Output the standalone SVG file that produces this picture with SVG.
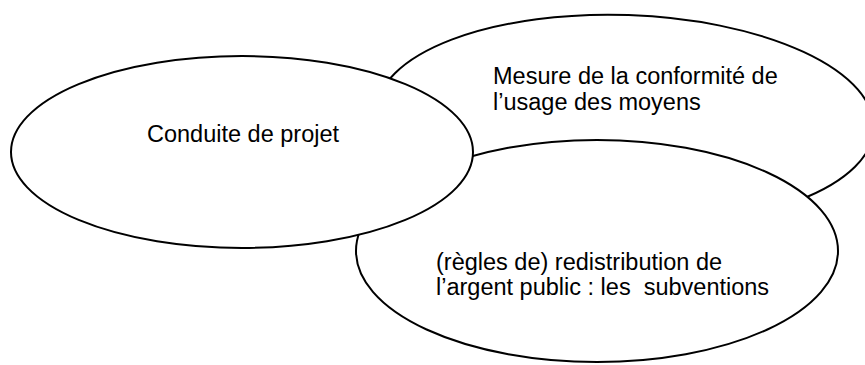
<svg xmlns="http://www.w3.org/2000/svg" width="865" height="365" viewBox="0 0 865 365">
<style>
.node ellipse{fill:#fff;stroke:#000;stroke-width:2}
.lbl{font-family:"Liberation Sans",Arial,sans-serif;font-size:23.5px;fill:#000;white-space:pre}
</style>
<rect width="865" height="365" fill="#fff"/>
<g id="connectors"></g>
<g id="node-mesure" class="node">
<ellipse cx="625" cy="120" rx="249" ry="105" transform="rotate(2 625 120)"/>
<text class="lbl" x="493" y="84">Mesure de la conformité de</text>
<text class="lbl" x="493" y="110">l’usage des moyens</text>
</g>
<g id="node-redistribution" class="node">
<ellipse cx="597" cy="251" rx="241" ry="111"/>
<text class="lbl" x="436" y="270">(règles de) redistribution de</text>
<text class="lbl" x="436" y="295" xml:space="preserve">l’argent public : les  subventions</text>
</g>
<g id="node-conduite" class="node">
<ellipse cx="242" cy="152" rx="231" ry="96"/>
<text class="lbl" x="147" y="142">Conduite de projet</text>
</g>
</svg>
